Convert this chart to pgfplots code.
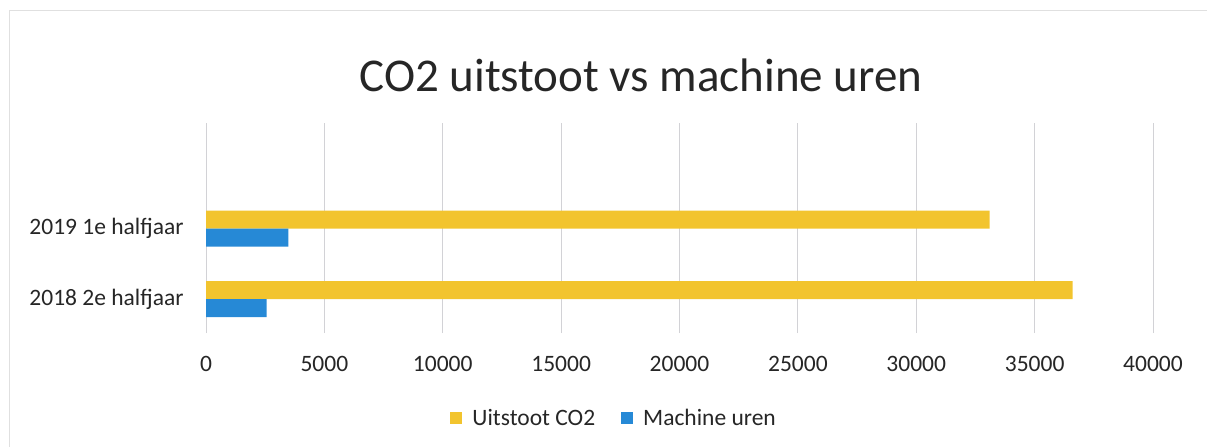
\documentclass[border=0pt]{standalone}
\usepackage{fontspec}
\setmainfont{Carlito}
\usepackage{pgfplots}
\pgfplotsset{compat=1.18}
\definecolor{ygold}{RGB}{242,196,46}
\definecolor{bblue}{RGB}{38,137,214}
\definecolor{gridc}{RGB}{210,210,214}
\begin{document}
\begin{tikzpicture}[x=1pt,y=1pt]
\useasboundingbox (0,0) rectangle (1207,447);
\draw[black!12, line width=1pt] (9,0) -- (9,436) -- (1207,436);
\node[anchor=base, inner sep=0pt, font=\fontsize{47}{56}\selectfont, text=black!85] at (641,355) {CO2 uitstoot vs machine uren};
\begin{axis}[
  at={(206pt,114pt)}, anchor=south west,
  scale only axis, width=947pt, height=210pt,
  xbar, bar width=18pt,
  xmin=0, xmax=40000, xtick={0,5000,...,40000},
  ymin=-0.48, ymax=2.5, ytick={0,1},
  yticklabels={2018 2e halfjaar, 2019 1e halfjaar},
  axis line style={draw=none}, major tick length=0pt,
  xmajorgrids, major grid style={gridc, line width=0.8pt},
  /pgf/number format/assume math mode=true,
  /pgf/number format/fixed,
  /pgf/number format/set thousands separator={},
  scaled x ticks=false,
  tick label style={font=\fontsize{23.5}{28}\selectfont, text=black!85},
  xticklabel style={yshift=-20pt},
  yticklabel style={xshift=-19pt},
  legend style={at={(0.431,-0.405)}, anchor=center, draw=none, fill=none,
    font=\fontsize{23.5}{28}\selectfont, text=black!85,
    /tikz/every odd column/.append style={column sep=8pt},
    /tikz/every even column/.append style={column sep=24pt}},
  legend columns=2,
  legend image code/.code={\fill[#1] (0pt,-6pt) rectangle (12pt,6pt);},
]
\addplot[fill=ygold, draw=none, bar shift=9pt] coordinates {(36600,0) (33100,1)};
\addplot[fill=bblue, draw=none, bar shift=-9pt] coordinates {(2560,0) (3480,1)};
\legend{Uitstoot CO2, Machine uren}
\end{axis}
\end{tikzpicture}
\end{document}
